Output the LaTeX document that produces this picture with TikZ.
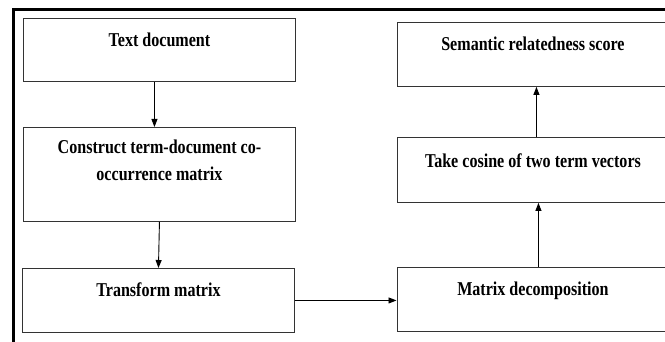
\documentclass[tikz,border=0pt]{standalone}
\usepackage{fontspec}
\setmainfont{Liberation Serif}[FakeStretch=0.82]
\usetikzlibrary{arrows.meta}

\begin{document}
\begin{tikzpicture}[x=1pt,y=-1pt,
        stage/.style={draw=black!80,line width=0.9pt,anchor=north west,inner sep=0pt,
          text width=272pt,align=flush center,font=\fontsize{19.6}{27.5}\selectfont\bfseries},
        flow/.style={-{Triangle[length=8pt,width=6pt]},line width=0.9pt}]
        \path[use as bounding box,clip] (0,0) rectangle (665,342);
        \draw[line width=2.8pt] (13.5,9.5) rectangle (720,400);
        \node[stage,text height=28pt,text depth=35pt] (doc) at (23,18) {Text document};
        \node[stage,text height=26pt,text depth=68pt] (cooc) at (23,127)
          {Construct term-document co-\\occurrence matrix};
        \node[stage,text height=28pt,text depth=36pt] (trans) at (22,268) {Transform matrix};
        \node[stage,text height=28pt,text depth=36pt] (decomp) at (396.5,267) {Matrix decomposition};
        \node[stage,text height=30pt,text depth=35pt] (cosine) at (396.5,137) {Take cosine of two term vectors};
        \node[stage,text height=28pt,text depth=36pt] (score) at (396.5,22) {Semantic relatedness score};
        \draw[flow] ([xshift=-5pt]doc.south) -- ([xshift=-5pt]doc.south |- cooc.north);
        \draw[flow] (cooc.south) -- (trans.north);
        \draw[flow] (trans.east) -- (trans.east -| decomp.west);
        \draw[flow] ([xshift=5.5pt]decomp.north) -- ([xshift=5.5pt]decomp.north |- cosine.south);
        \draw[flow] ([xshift=3.5pt]cosine.north) -- ([xshift=3.5pt]cosine.north |- score.south);
\end{tikzpicture}
\end{document}
